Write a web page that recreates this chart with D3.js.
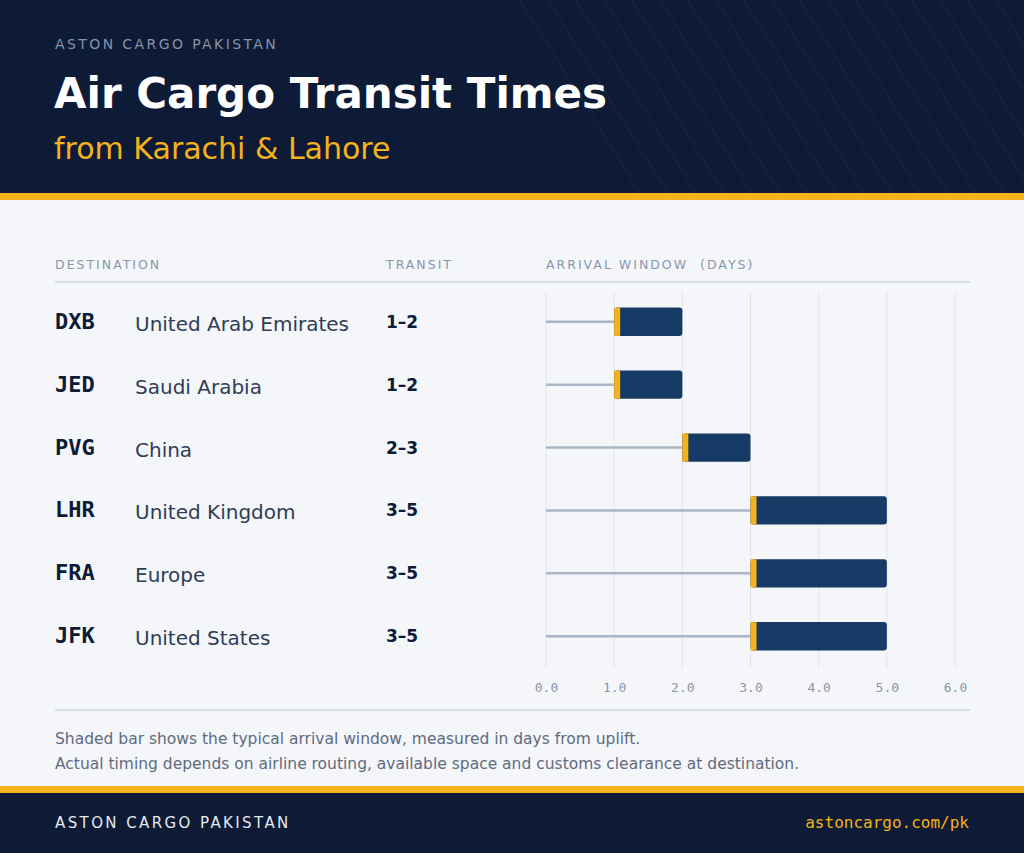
<!DOCTYPE html>
<html><head><meta charset="utf-8">
<script src="https://cdn.jsdelivr.net/npm/d3@7"></script>
<style>body{margin:0;background:#f4f6fa}</style>
</head><body><div id="chart"></div>
<script>
const codes = ["DXB", "JED", "PVG", "LHR", "FRA", "JFK"];
const countries = ["United Arab Emirates", "Saudi Arabia", "China", "United Kingdom", "Europe", "United States"];
const minDays = [1, 1, 2, 3, 3, 3];
const maxDays = [2, 2, 3, 5, 5, 5];
const dayTicks = [0, 1, 2, 3, 4, 5, 6];

const W = 1024, H = 853;
const navy = "#0d1b36", gold = "#f5b21a", bar = "#163a66";
const svg = d3.select("#chart").append("svg").attr("width", W).attr("height", H)
  .style("font-family", "DejaVu Sans");

svg.append("rect").attr("width", W).attr("height", H).attr("fill", "#f4f6fa");
// header
svg.append("rect").attr("width", W).attr("height", 193).attr("fill", navy);
const g = svg.append("g").attr("opacity", 0.05);
for (let i = 0; i < 30; i++) {
  const x0 = 520 + i * 28;
  g.append("line").attr("x1", x0).attr("y1", 0).attr("x2", x0 + 120).attr("y2", 193)
    .attr("stroke", "#fff").attr("stroke-width", 1);
}
svg.append("rect").attr("y", 193).attr("width", W).attr("height", 7).attr("fill", gold);
svg.append("text").attr("x", 55).attr("y", 49).text("ASTON CARGO PAKISTAN")
  .attr("fill", "#8893a8").attr("font-size", 14).attr("letter-spacing", 2.4);
svg.append("text").attr("x", 54).attr("y", 108).text("Air Cargo Transit Times")
  .attr("fill", "#fff").attr("font-size", 42).attr("font-weight", "bold");
svg.append("text").attr("x", 54).attr("y", 159).text("from Karachi & Lahore")
  .attr("fill", gold).attr("font-size", 30);

// column heads
const head = [["DESTINATION", 55], ["TRANSIT", 386], ["ARRIVAL WINDOW  (DAYS)", 546]];
head.forEach(([t, x]) => svg.append("text").attr("x", x).attr("y", 269).text(t)
  .attr("fill", "#8a97aa").attr("font-size", 12.5).attr("letter-spacing", 2).attr("xml:space", "preserve"));
svg.append("line").attr("x1", 55).attr("x2", 970).attr("y1", 282).attr("y2", 282).attr("stroke", "#ccd3dd").attr("stroke-width", 1.5);

const x = d3.scaleLinear().domain([0, 6]).range([546, 955]);
const y = d3.scaleBand().domain(codes).range([290, 668]).paddingInner(0.55).paddingOuter(0.28);

svg.append("g").selectAll("line").data(dayTicks).join("line")
  .attr("x1", d => x(d)).attr("x2", d => x(d)).attr("y1", 292).attr("y2", 668)
  .attr("stroke", "#e0e5ec").attr("stroke-width", 1);

const axis = svg.append("g").attr("transform", "translate(0,687)")
  .call(d3.axisBottom(x).tickValues(dayTicks).tickSize(0).tickPadding(0));
axis.select(".domain").remove();
axis.selectAll("text").attr("fill", "#8a97aa").attr("font-size", 13).attr("font-family", "DejaVu Sans Mono").attr("dy", "0.35em");

const rows = svg.append("g").selectAll("g").data(codes).join("g");
rows.each(function (c, i) {
  const r = d3.select(this), yc = y(c) + y.bandwidth() / 2;
  r.append("text").attr("x", 55).attr("y", yc + 7).text(c).attr("font-family", "DejaVu Sans Mono")
    .attr("font-weight", "bold").attr("font-size", 22).attr("fill", navy);
  r.append("text").attr("x", 135).attr("y", yc + 9).text(countries[i]).attr("font-size", 20).attr("fill", "#2f3d55");
  r.append("text").attr("x", 386).attr("y", yc + 6).text(minDays[i] + "–" + maxDays[i])
    .attr("font-weight", "bold").attr("font-size", 17).attr("fill", navy);
  r.append("line").attr("x1", x(0)).attr("x2", x(minDays[i])).attr("y1", yc).attr("y2", yc)
    .attr("stroke", "#aab6c6").attr("stroke-width", 2.5);
  r.append("rect").attr("x", x(minDays[i])).attr("y", y(c)).attr("width", x(maxDays[i]) - x(minDays[i]))
    .attr("height", y.bandwidth()).attr("rx", 3).attr("fill", bar);
  r.append("rect").attr("x", x(minDays[i])).attr("y", y(c)).attr("width", 6)
    .attr("height", y.bandwidth()).attr("fill", gold);
});

svg.append("line").attr("x1", 55).attr("x2", 970).attr("y1", 710).attr("y2", 710).attr("stroke", "#ccd3dd").attr("stroke-width", 1.5);
svg.append("text").attr("x", 55).attr("y", 744).text("Shaded bar shows the typical arrival window, measured in days from uplift.")
  .attr("fill", "#5f6b7e").attr("font-size", 15.5);
svg.append("text").attr("x", 55).attr("y", 769).text("Actual timing depends on airline routing, available space and customs clearance at destination.")
  .attr("fill", "#5f6b7e").attr("font-size", 15.5);

// footer
svg.append("rect").attr("y", 786).attr("width", W).attr("height", 7).attr("fill", gold);
svg.append("rect").attr("y", 793).attr("width", W).attr("height", 60).attr("fill", navy);
svg.append("text").attr("x", 55).attr("y", 828).text("ASTON CARGO PAKISTAN")
  .attr("fill", "#e6e9ef").attr("font-size", 15).attr("letter-spacing", 2.4);
svg.append("text").attr("x", 969).attr("y", 828).attr("text-anchor", "end").text("astoncargo.com/pk")
  .attr("fill", gold).attr("font-size", 16).attr("font-family", "DejaVu Sans Mono");
</script></body></html>
